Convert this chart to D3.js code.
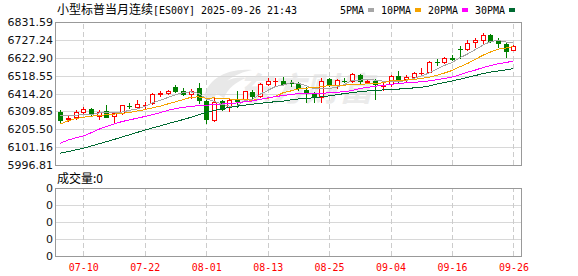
<!DOCTYPE html>
<html>
<head>
<meta charset="utf-8">
<script src="https://cdn.jsdelivr.net/npm/d3@7"></script>
<style>
  html, body { margin: 0; padding: 0; background: #fff; }
  svg { display: block; }
</style>
</head>
<body>
<div id="chart"></div>
<script>
// ---- data ----
const title = ['小型标普当月连续', '[ES00Y] 2025-09-26 21:43'];

const dates = [
  '07-07','07-08','07-09','07-10','07-11','07-14','07-15','07-16','07-17','07-18',
  '07-21','07-22','07-23','07-24','07-25','07-28','07-29','07-30','07-31','08-01',
  '08-04','08-05','08-06','08-07','08-08','08-11','08-12','08-13','08-14','08-15',
  '08-18','08-19','08-20','08-21','08-22','08-25','08-26','08-27','08-28','08-29',
  '09-01','09-02','09-03','09-04','09-05','09-08','09-09','09-10','09-11','09-12',
  '09-15','09-16','09-17','09-18','09-19','09-22','09-23','09-24','09-25','09-26'
];

const opens = [
  6304,6268,6275,6304,6322,6283,6312,6283,6299,6344,
  6337,6346,6357,6414,6415,6452,6429,6411,6444,6372,
  6260,6370,6333,6376,6380,6425,6402,6470,6485,6487,
  6477,6474,6435,6415,6392,6497,6464,6490,6489,6522,
  6483,6489,6458,6468,6516,6497,6509,6533,6542,6601,
  6596,6620,6675,6674,6713,6727,6756,6727,6703,6670
];
const highs = [
  6318,6283,6318,6337,6328,6318,6347,6308,6347,6361,
  6376,6363,6415,6427,6435,6462,6444,6438,6474,6386,
  6396,6376,6386,6429,6431,6435,6474,6503,6503,6509,
  6493,6483,6450,6425,6503,6503,6497,6503,6532,6526,
  6491,6499,6474,6522,6546,6522,6542,6565,6604,6614,
  6625,6639,6693,6727,6736,6769,6760,6736,6707,6697
];
const lows = [
  6246,6254,6264,6293,6289,6264,6275,6244,6295,6328,
  6328,6331,6353,6400,6410,6425,6405,6386,6361,6244,
  6256,6318,6314,6337,6376,6386,6396,6464,6458,6464,
  6460,6435,6367,6367,6367,6458,6444,6479,6483,6468,
  6473,6380,6435,6460,6479,6483,6497,6528,6542,6581,
  6594,6610,6620,6668,6688,6701,6713,6688,6629,6668
];
const closes = [
  6260,6271,6304,6324,6295,6308,6279,6302,6347,6342,
  6351,6348,6411,6416,6429,6431,6411,6431,6376,6263,
  6366,6324,6376,6372,6429,6402,6468,6487,6488,6470,
  6474,6448,6419,6396,6489,6464,6493,6488,6526,6489,
  6489,6468,6461,6516,6487,6512,6532,6536,6600,6599,
  6623,6618,6673,6707,6726,6756,6723,6707,6664,6693
];

const ma5 = [
  6285,6286,6288,6290,6290.8,6300.4,6302,6301.6,6306.2,6315.6,
  6324.2,6338,6359.8,6373.6,6391,6407,6419.6,6423.6,6415.6,6382.4,
  6369.4,6352,6341,6340.2,6373.4,6380.6,6409.4,6431.6,6454.8,6463,
  6477.4,6473.4,6459.8,6441.4,6445.2,6443.2,6452.2,6466,6492,6492,
  6497,6492,6486.6,6484.6,6484.2,6488.8,6501.6,6516.6,6533.4,6555.8,
  6578,6595.2,6622.6,6644,6669.4,6696,6717,6723.8,6715.2,6708.6
];
const ma10 = [
  6236,6255,6268,6276,6282,6286,6290,6294,6298,6303.2,
  6312.3,6320,6330.7,6339.9,6353.3,6365.6,6378.8,6391.7,6394.6,6386.7,
  6388.2,6385.8,6382.3,6377.9,6377.9,6375,6380.7,6386.3,6397.5,6418.2,
  6429,6441.4,6445.7,6448.1,6454.1,6460.3,6462.8,6462.9,6466.7,6468.6,
  6470.1,6472.1,6476.3,6488.3,6488.1,6492.9,6496.8,6501.6,6509,6520,
  6533.4,6548.4,6569.6,6588.7,6612.6,6637,6656.1,6673.2,6679.6,6689
];
const ma20 = [
  6124,6142,6155,6166,6185,6205,6222,6236,6250,6260,
  6270,6280,6290,6302,6316,6326,6333,6339,6343,6345,
  6350.3,6352.9,6356.5,6358.9,6365.6,6370.3,6379.8,6389,6396.1,6402.5,
  6408.6,6413.6,6414,6413,6416,6417.7,6421.8,6424.6,6432.1,6443.4,
  6449.6,6456.8,6461,6468.2,6471.1,6476.6,6479.8,6482.3,6487.9,6494.3,
  6501.8,6510.3,6523,6538.5,6550.4,6565,6576.5,6587.4,6594.3,6604.5
];
const ma30 = [
  6066,6075,6085,6095,6107,6120,6133,6146,6160,6173,
  6187,6200,6213,6225,6238,6250,6262,6275,6290,6305,
  6315,6325,6333,6340,6346,6352,6357,6362,6366,6369.4,
  6376.5,6382.4,6386.2,6388.6,6395.1,6400.3,6407.4,6413.6,6419.6,6424.5,
  6429.1,6433.1,6434.8,6438.1,6440,6442.7,6446.8,6450.3,6457.7,6468.9,
  6477.5,6487.3,6497.2,6508.4,6518.3,6530.1,6538.6,6545.9,6551.8,6559.2
];

const priceTicks = [5996.81, 6101.16, 6205.50, 6309.85, 6414.20, 6518.55, 6622.90, 6727.24, 6831.59];
const volumeTicks = ['0', '0', '0', '0', '0'];
const volumeLabel = '成交量:0';
const dateTicks = ['07-10','07-22','08-01','08-13','08-25','09-04','09-16','09-26'];
const legendNames = ['5PMA', '10PMA', '20PMA', '30PMA'];

// ---- layout / style ----
const W = 578, H = 276;
const main = { left: 55, right: 522, top: 22, bottom: 165 };
const vol = { top: 188, bottom: 256 };
const UP = '#ff0000', DOWN = '#008000';
const maColors = ['#a6a6a6', '#f5a300', '#ff00ff', '#006a32'];
const CJK = '"Noto Sans CJK SC", sans-serif';
const MONO = '"DejaVu Sans Mono", "Liberation Mono", monospace';
const SANS = '"DejaVu Sans", Verdana, sans-serif';

const svg = d3.select('#chart')
  .append('svg')
  .attr('width', W)
  .attr('height', H)
  .style('background', '#fff');

const x = d3.scaleLinear().domain([0, dates.length - 1]).range([60.3, 513.4]);
const y = d3.scaleLinear()
  .domain([priceTicks[0], priceTicks[priceTicks.length - 1]])
  .range([main.bottom, main.top]);
const yVol = d3.scaleLinear().domain([0, volumeTicks.length - 1]).range([vol.bottom, vol.top]);
const tickIdx = dateTicks.map(d => dates.indexOf(d));

// horizontal grid, price panel
svg.append('g')
  .attr('transform', `translate(${main.left},0)`)
  .call(d3.axisLeft(y).tickValues(priceTicks).tickSize(-(main.right - main.left)).tickFormat(''))
  .call(g => g.select('.domain').remove())
  .call(g => g.selectAll('line').attr('stroke', '#d8d8d8').attr('shape-rendering', 'crispEdges'));

// horizontal grid, volume panel
svg.append('g')
  .attr('transform', `translate(${main.left},0)`)
  .call(d3.axisLeft(yVol).tickValues(d3.range(volumeTicks.length)).tickSize(-(main.right - main.left)).tickFormat(''))
  .call(g => g.select('.domain').remove())
  .call(g => g.selectAll('line').attr('stroke', '#d8d8d8').attr('shape-rendering', 'crispEdges'));

// vertical dashed lines at the date ticks (both panels)
[[main.top, main.bottom], [vol.top, vol.bottom]].forEach(([t, b]) => {
  svg.append('g')
    .attr('transform', `translate(0,${b})`)
    .call(d3.axisBottom(x).tickValues(tickIdx).tickSize(-(b - t)).tickFormat(''))
    .call(g => g.select('.domain').remove())
    .call(g => g.selectAll('line')
      .attr('stroke', '#cccccc')
      .attr('stroke-dasharray', '5,3')
      .attr('shape-rendering', 'crispEdges'));
});

// faint watermark
const wm = svg.append('g').attr('opacity', 0.6);
wm.append('path')
  .attr('d', 'M204,99 C206,80 226,68 252,70 C236,73 220,82 214,99 Z M214,92 C222,80 236,76 246,78 C236,82 228,88 224,98 Z')
  .attr('fill', '#d9d9d9');
wm.append('text')
  .attr('x', 237).attr('y', 101)
  .attr('font-family', CJK)
  .attr('font-size', 33)
  .attr('font-weight', 'bold')
  .attr('font-style', 'italic')
  .attr('fill', '#dedede')
  .attr('textLength', 136)
  .attr('lengthAdjust', 'spacingAndGlyphs')
  .text('东方财富');

// panel frames
[[main.top, main.bottom], [vol.top, vol.bottom]].forEach(([t, b]) => {
  svg.append('rect')
    .attr('x', main.left + 0.5).attr('y', t + 0.5)
    .attr('width', main.right - main.left - 1).attr('height', b - t)
    .attr('fill', 'none')
    .attr('stroke', '#999')
    .attr('shape-rendering', 'crispEdges');
});

// price labels
svg.append('g')
  .attr('transform', `translate(${main.left},0)`)
  .call(d3.axisLeft(y).tickValues(priceTicks).tickSize(0).tickPadding(2).tickFormat(d3.format('.2f')))
  .call(g => g.select('.domain').remove())
  .call(g => g.selectAll('text').attr('font-family', SANS).attr('font-size', 11).attr('fill', '#111'));

// volume labels
svg.append('g')
  .attr('transform', `translate(${main.left},0)`)
  .call(d3.axisLeft(yVol).tickValues(d3.range(volumeTicks.length)).tickSize(0).tickPadding(2).tickFormat(i => volumeTicks[i]))
  .call(g => g.select('.domain').remove())
  .call(g => g.selectAll('text').attr('font-family', SANS).attr('font-size', 11).attr('fill', '#111'));

// date labels
svg.append('g')
  .attr('transform', `translate(0,${vol.bottom})`)
  .call(d3.axisBottom(x).tickValues(tickIdx).tickSize(0).tickPadding(7).tickFormat(i => dates[i]))
  .call(g => g.select('.domain').remove())
  .call(g => g.selectAll('text')
    .attr('font-family', MONO).attr('font-size', 11).attr('fill', '#ff0000')
    .attr('textLength', 30).attr('lengthAdjust', 'spacingAndGlyphs'));

// candles
const bars = dates.map((d, i) => ({ i, o: opens[i], h: highs[i], l: lows[i], c: closes[i] }));
const candle = svg.append('g')
  .attr('shape-rendering', 'crispEdges')
  .selectAll('g')
  .data(bars)
  .enter()
  .append('g');

candle.each(function (d) {
  const g = d3.select(this);
  const cx = Math.round(x(d.i));
  const up = d.c >= d.o;
  const col = up ? UP : DOWN;
  const top = Math.round(y(Math.max(d.o, d.c)));
  const bot = Math.round(y(Math.min(d.o, d.c)));

  g.append('line')
    .attr('x1', cx + 0.5).attr('x2', cx + 0.5)
    .attr('y1', Math.round(y(d.h))).attr('y2', Math.round(y(d.l)) + 1)
    .attr('stroke', col);

  if (bot - top < 1) {
    // doji: flat body
    g.append('line')
      .attr('x1', cx - 2).attr('x2', cx + 3)
      .attr('y1', top + 0.5).attr('y2', top + 0.5)
      .attr('stroke', col);
  } else if (up) {
    g.append('rect')
      .attr('x', cx - 1.5).attr('y', top + 0.5)
      .attr('width', 4).attr('height', bot - top)
      .attr('fill', '#fff').attr('stroke', col);
  } else {
    g.append('rect')
      .attr('x', cx - 2).attr('y', top)
      .attr('width', 5).attr('height', bot - top + 1)
      .attr('fill', col);
  }
});

// moving averages
const line = d3.line().x((v, i) => x(i)).y(v => y(v));
[ma5, ma10, ma20, ma30].forEach((series, k) => {
  svg.append('path')
    .datum(series)
    .attr('d', line)
    .attr('fill', 'none')
    .attr('stroke', maColors[k])
    .attr('stroke-width', 1)
    .attr('shape-rendering', 'crispEdges');
});

// title
const t = svg.append('text').attr('x', 57).attr('y', 14).attr('fill', '#000');
t.append('tspan').attr('font-family', CJK).attr('font-size', 12).text(title[0]);
t.append('tspan').attr('font-family', MONO).attr('font-size', 11)
  .attr('textLength', title[1].length * 6).attr('lengthAdjust', 'spacingAndGlyphs')
  .text(title[1]);

// legend
let lx = 340;
legendNames.forEach((name, k) => {
  const w = name.length * 6;
  svg.append('text')
    .attr('x', lx).attr('y', 14)
    .attr('font-family', MONO).attr('font-size', 11)
    .attr('textLength', w).attr('lengthAdjust', 'spacingAndGlyphs')
    .attr('fill', '#000')
    .text(name);
  svg.append('rect')
    .attr('x', lx + w + 4).attr('y', 8)
    .attr('width', 6).attr('height', 4)
    .attr('fill', maColors[k]);
  lx += w + 4 + 6 + 7;
});

// volume caption
svg.append('text')
  .attr('x', 57).attr('y', 183)
  .attr('font-family', CJK).attr('font-size', 12)
  .attr('fill', '#000')
  .text(volumeLabel);
</script>
</body>
</html>
